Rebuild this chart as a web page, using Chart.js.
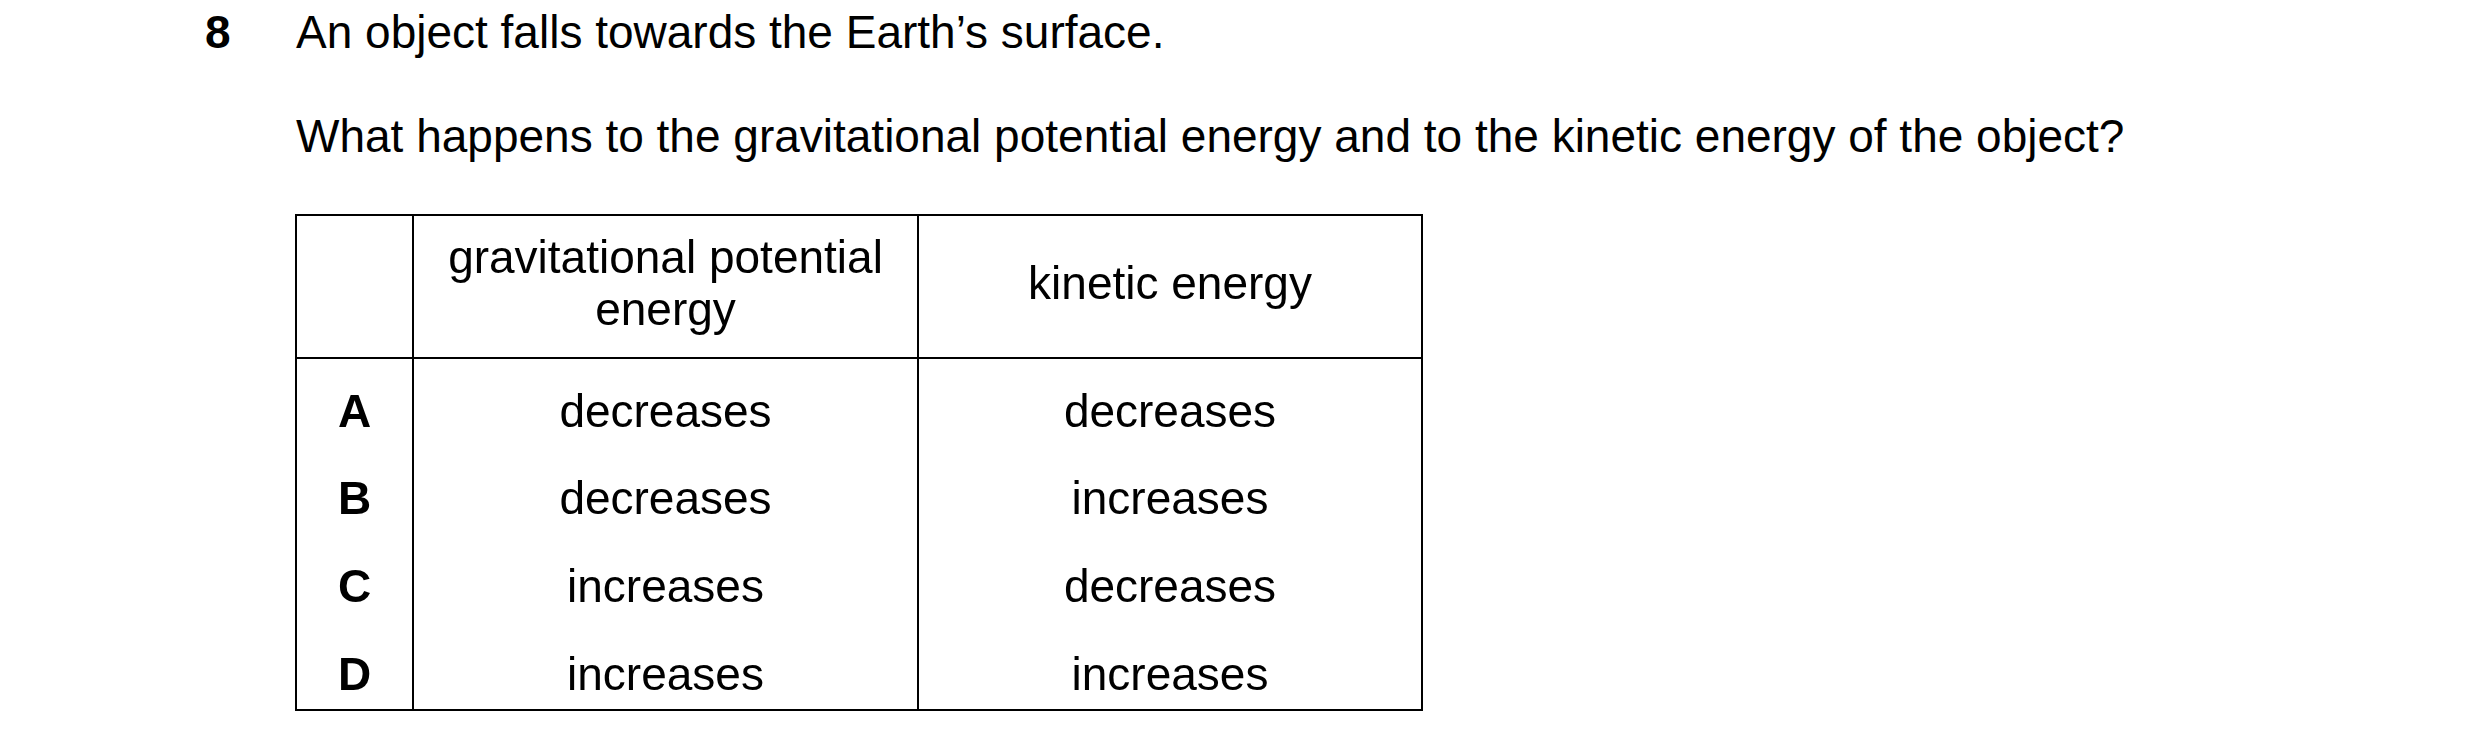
<!DOCTYPE html>
<html><head><meta charset="utf-8">
<script src="https://cdn.jsdelivr.net/npm/chart.js@4"></script>
<style>
body{margin:0;background:#fff;width:2480px;height:751px;position:relative;font-family:"Liberation Sans",Arial,sans-serif;color:#000}
.t{position:absolute;font-size:46px;line-height:54px;white-space:nowrap}
#wrap{position:absolute;left:286px;top:205px;width:1150px;height:516px}
</style></head><body>
<div class="t" style="left:205px;top:5px;font-weight:bold">8</div>
<div class="t" style="left:296px;top:5px">An object falls towards the Earth’s surface.</div>
<div class="t" style="left:296px;top:109px">What happens to the gravitational potential energy and to the kinetic energy of the object?</div>
<div id="wrap"><canvas id="c"></canvas></div>
<script>
const rowLabels=['A','B','C','D'];
const headers=['', 'gravitational potential\nenergy', 'kinetic energy'];
const gpe=['decreases','decreases','increases','increases'];
const ke=['decreases','increases','decreases','increases'];
const F='46px "Liberation Sans", Arial, sans-serif';

const tablePlugin={id:'table',afterDraw(chart){
 const ctx=chart.ctx, y=chart.scales.y;
 const L=10, R=1136, T=10, HB=153, B=505;
 const c1=127, c2=632;
 ctx.save();ctx.strokeStyle='#000';ctx.lineWidth=2;
 ctx.strokeRect(L,T,R-L,B-T);
 ctx.beginPath();ctx.moveTo(c1,T);ctx.lineTo(c1,B);ctx.moveTo(c2,T);ctx.lineTo(c2,B);
 ctx.moveTo(L,HB);ctx.lineTo(R,HB);ctx.stroke();
 ctx.fillStyle='#000';ctx.textAlign='center';ctx.textBaseline='middle';
 ctx.font=F;
 const hc=[(L+c1)/2,(c1+c2)/2,(c2+R)/2];
 headers.forEach((h,i)=>{const ls=h.split('\n');const mid=(T+HB)/2;
  ls.forEach((l,j)=>ctx.fillText(l,hc[i],mid+(j-(ls.length-1)/2)*52));});
 rowLabels.forEach((r,i)=>{const py=y.getPixelForValue(i);
  ctx.font='bold '+F;ctx.fillText(r,hc[0],py);
  ctx.font=F;
  ctx.fillText(gpe[i],hc[1],py);ctx.fillText(ke[i],hc[2],py);});
 ctx.restore();}};

new Chart(document.getElementById('c'),{type:'bar',
 data:{labels:rowLabels,datasets:[{data:[0,0,0,0]}]},
 options:{responsive:true,maintainAspectRatio:false,animation:false,indexAxis:'y',
  layout:{padding:{top:165,bottom:0,left:0,right:0}},
  plugins:{legend:{display:false},tooltip:{enabled:false}},
  scales:{x:{display:false},y:{display:false,offset:true}}},
 plugins:[tablePlugin]});
</script></body></html>
